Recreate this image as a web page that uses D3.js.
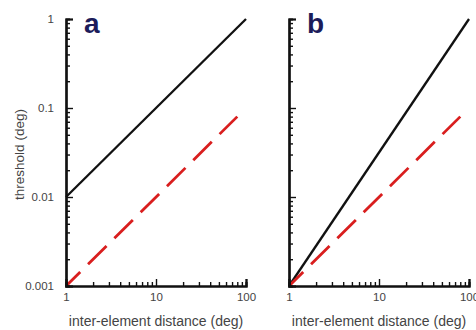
<!DOCTYPE html>
<html>
<head>
<meta charset="utf-8">
<script src="https://cdn.jsdelivr.net/npm/d3@7"></script>
<style>
  body { margin: 0; background: #fff; }
  text { font-family: "Liberation Sans", Arial, sans-serif; }
</style>
</head>
<body>
<div class="chart"></div>
<script>
const width = 476
const height = 330

// data
const panelNames = ["a", "b"]
const xTicks = [1, 10, 100]
const yTicks = [0.001, 0.01, 0.1, 1]
const xLabels = ["1", "10", "100"]
const yLabels = ["0.001", "0.01", "0.1", "1"]
const lineX = [1, 100]
const blackA = [0.01, 1]
const blackB = [0.001, 1]
const redX = [1, 80]
const redY = [0.001, 0.08]

const svg = d3.select(".chart")
    .append("svg")
    .attr("width", width)
    .attr("height", height)

const minors = decades => {
    let out = []
    for (let i = 0; i < decades.length - 1; i++)
        for (let k = 2; k <= 9; k++) out.push(decades[i] * k)
    return out
}

const panels = [
    {name: panelNames[0], left: 66, black: blackA, yText: true},
    {name: panelNames[1], left: 289, black: blackB, yText: false},
]
const innerW = 180
const plotTop = 19
const plotBottom = 286

panels.forEach(p => {
    const x = d3.scaleLog().domain([xTicks[0], xTicks[2]]).range([0, innerW])
    const y = d3.scaleLog().domain([yTicks[0], yTicks[3]]).range([plotBottom - plotTop, 0])

    const g = svg.append("g")
        .attr("transform", `translate(${p.left}, ${plotTop})`)

    // lines
    const line = d3.line().x(d => x(d[0])).y(d => y(d[1]))
    g.append("path")
        .datum(lineX.map((v, i) => [v, p.black[i]]))
        .attr("d", line)
        .attr("fill", "none")
        .attr("stroke", "#111")
        .attr("stroke-width", 2.3)
    g.append("path")
        .datum(redX.map((v, i) => [v, redY[i]]))
        .attr("d", line)
        .attr("fill", "none")
        .attr("stroke", "#d91e1e")
        .attr("stroke-width", 2.8)
        .attr("stroke-dasharray", "26,11")
        .attr("stroke-dashoffset", 6)

    // y axis
    g.append("g").call(d3.axisLeft(y).tickValues(minors(yTicks)).tickSize(-4).tickFormat(""))
    g.append("g").call(d3.axisLeft(y).tickValues(yTicks).tickSize(-7).tickPadding(12)
            .tickFormat((d, i) => p.yText ? yLabels[i] : ""))

    // x axis
    const xa = g.append("g").attr("transform", `translate(0, ${plotBottom - plotTop})`)
    xa.call(d3.axisBottom(x).tickValues(minors(xTicks)).tickSize(-4).tickFormat(""))
    xa.append("g").call(d3.axisBottom(x).tickValues(xTicks).tickSize(-7).tickPadding(7)
            .tickFormat((d, i) => xLabels[i]))

    g.selectAll(".domain").attr("stroke", "#111").attr("stroke-width", 2.2)
    g.selectAll(".tick line").attr("stroke", "#111").attr("stroke-width", 1.4)
    g.selectAll(".tick text").attr("fill", "#444").attr("font-size", 11.5)

    g.append("text")
        .attr("x", innerW / 2)
        .attr("y", plotBottom - plotTop + 40)
        .attr("text-anchor", "middle")
        .attr("fill", "#444")
        .attr("font-size", 14)
        .text("inter-element distance (deg)")

    g.append("text")
        .attr("x", 18)
        .attr("y", 14)
        .attr("fill", "#1c1c5a")
        .attr("font-size", 28)
        .attr("font-weight", "bold")
        .text(p.name)
})

svg.append("text")
    .attr("transform", `translate(24, ${(plotTop + plotBottom) / 2 + 2}) rotate(-90)`)
    .attr("text-anchor", "middle")
    .attr("fill", "#444")
    .attr("font-size", 13.5)
    .text("threshold (deg)")
</script>
</body>
</html>
